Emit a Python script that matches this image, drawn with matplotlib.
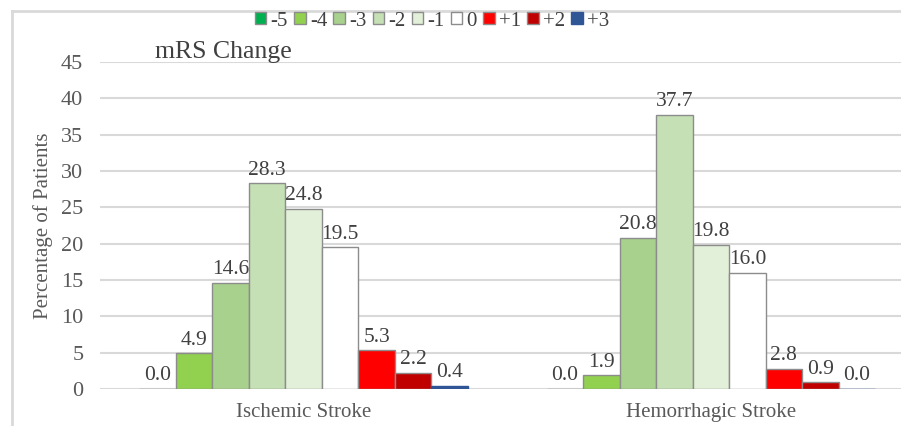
import numpy as np
import matplotlib.pyplot as plt
from matplotlib.lines import Line2D

plt.rcParams['font.family'] = ['Liberation Serif', 'DejaVu Serif']

categories = ['Ischemic Stroke', 'Hemorrhagic Stroke']
changes = ['-5', '-4', '-3', '-2', '-1', '0', '+1', '+2', '+3']
ischemic = [0.0, 4.9, 14.6, 28.3, 24.8, 19.5, 5.3, 2.2, 0.4]
hemorrhagic = [0.0, 1.9, 20.8, 37.7, 19.8, 16.0, 2.8, 0.9, 0.0]
colors = ['#00b050', '#92d050', '#a9d18e', '#c5e0b4', '#e2f0d9',
          '#ffffff', '#ff0000', '#c00000', '#2f5597']

values = np.array([ischemic, hemorrhagic])

fig = plt.figure(figsize=(9.01, 4.26), dpi=100)
ax = fig.add_axes([100 / 901, 1 - 389 / 426, 1 - 100 / 901, (389 - 62) / 426])

x = np.arange(len(categories))
width = 0.0896
n = len(changes)
for i, ch in enumerate(changes):
    offs = (i - (n - 1) / 2) * width
    edge = '#2f5597' if ch == '+3' else '#8c8c8c'
    bars = ax.bar(x + offs, values[:, i], width, color=colors[i],
                  edgecolor=edge, linewidth=1.0, label=ch, zorder=3)
    for b, v in zip(bars, values[:, i]):
        ax.text(b.get_x() + b.get_width() / 2, v + 0.5, f'{v:.1f}',
                ha='center', va='bottom', fontsize=15.5, color='#404040')

ax.set_ylim(0, 45)
ax.set_yticks(np.arange(0, 46, 5))
ax.set_xlim(-0.5, (901 - 304) / 407 - 0.0)
ax.set_xticks(x)
ax.set_xticklabels(categories)
ax.tick_params(axis='both', length=0, labelsize=16, labelcolor='#595959')
ax.tick_params(axis='x', labelsize=15, pad=10)
ax.tick_params(axis='y', pad=12)
ax.grid(axis='y', color='#d9d9d9', linewidth=1.5, zorder=0)
for s in ax.spines.values():
    s.set_visible(False)
ax.set_ylabel('Percentage of Patients', fontsize=15, color='#595959', labelpad=6)

fig.text(155 / 901, 1 - 58 / 426, 'mRS Change', fontsize=18.5, color='#404040',
         ha='left', va='baseline')

leg = fig.legend(loc='center', bbox_to_anchor=(432 / 901, 1 - 21 / 426), ncol=9,
                 frameon=False, fontsize=15, handlelength=0.55, handleheight=0.55,
                 handletextpad=0.2, columnspacing=0.3, borderpad=0)
for t in leg.get_texts():
    t.set_color('#404040')

# outer border of the chart area
fig.add_artist(Line2D([12 / 901, 12 / 901], [0, 1 - 11 / 426], transform=fig.transFigure,
                      color='#d9d9d9', linewidth=2))
fig.add_artist(Line2D([12 / 901, 1], [1 - 11 / 426, 1 - 11 / 426], transform=fig.transFigure,
                      color='#d9d9d9', linewidth=2))

fig.savefig('out.png', dpi=100)
